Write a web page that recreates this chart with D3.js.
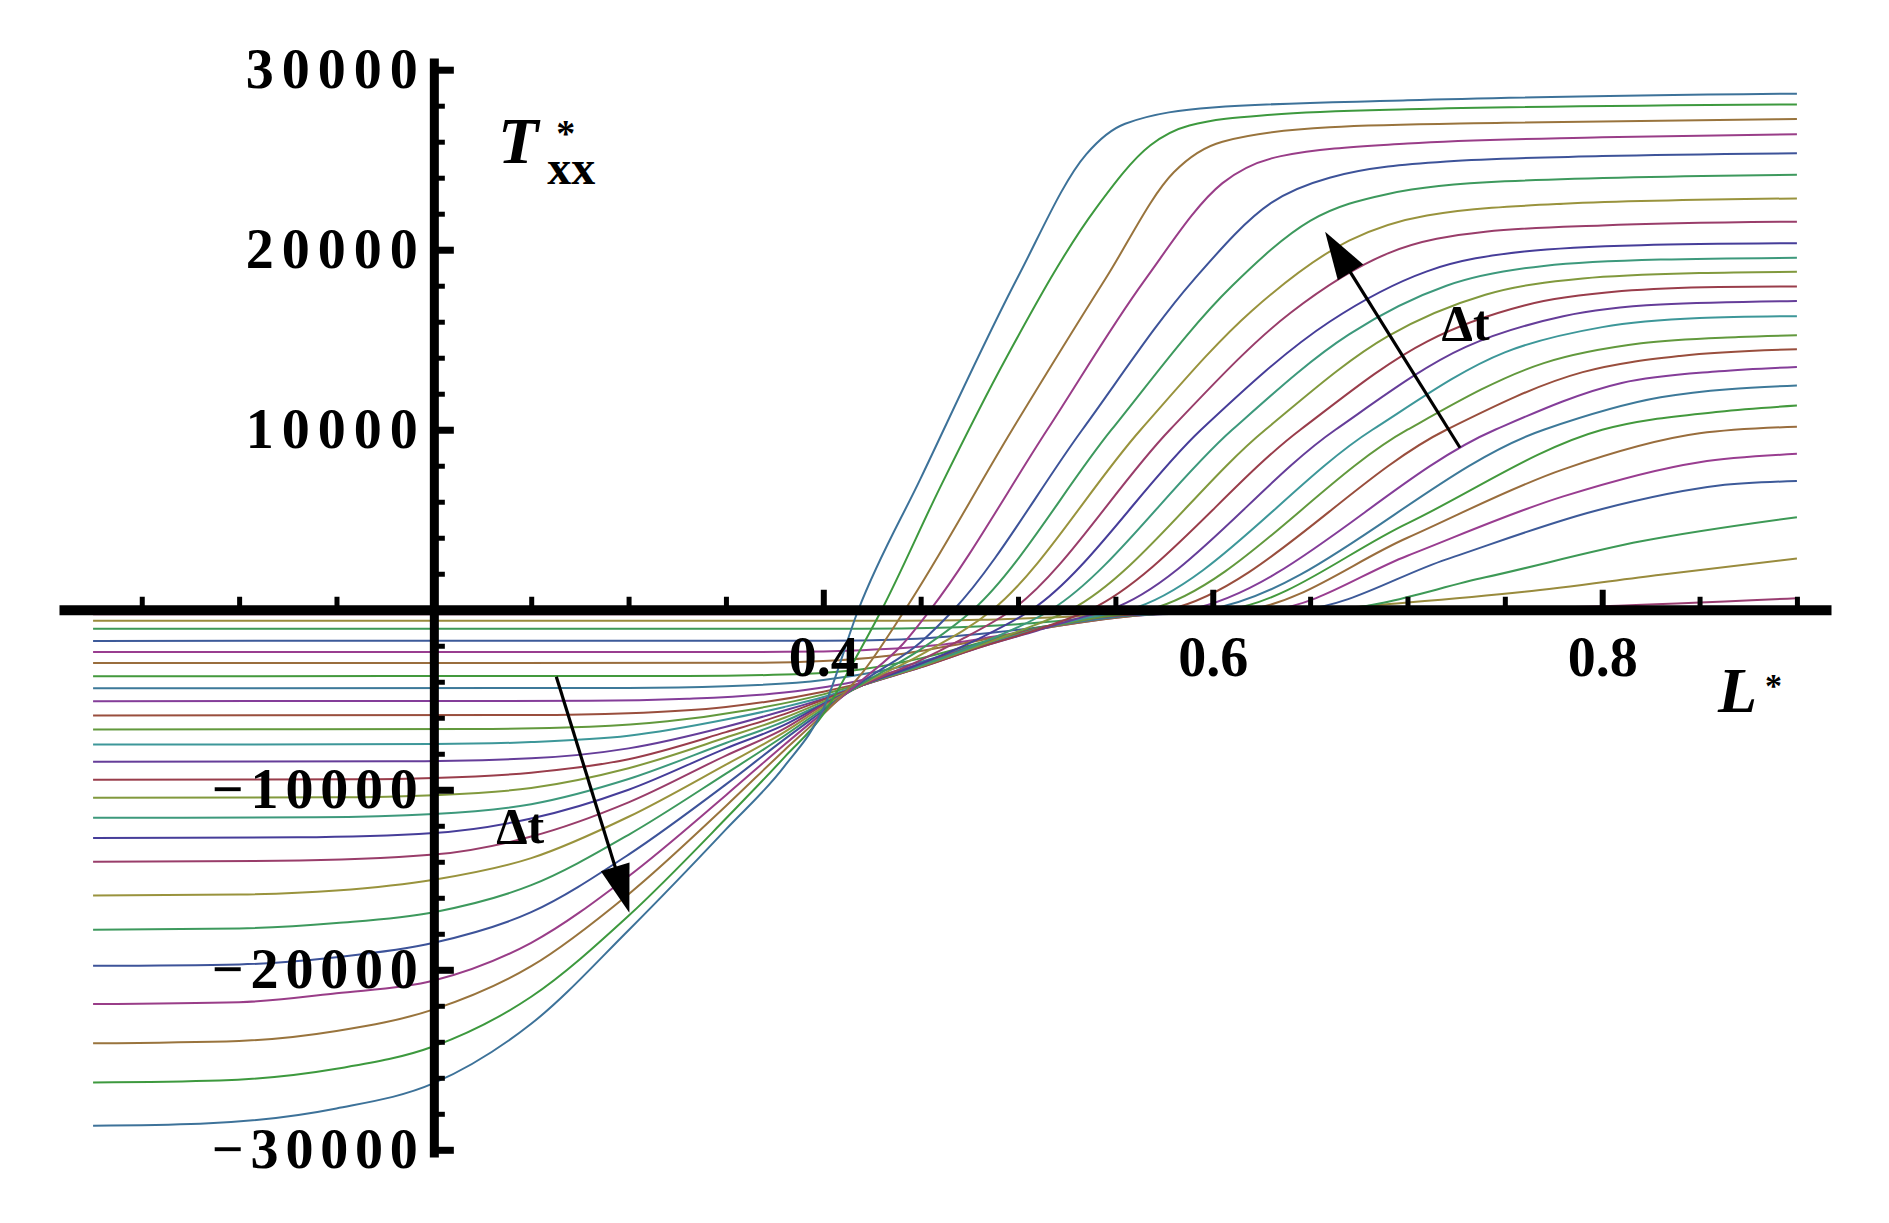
<!DOCTYPE html>
<html><head><meta charset="utf-8">
<script src="https://cdn.jsdelivr.net/npm/d3@7"></script>
<style>html,body{margin:0;padding:0;background:#fff;} svg{display:block;}</style>
</head><body>
<svg id="chart" width="1889" height="1223"></svg>
<script>
// ---- data: T*_xx vs L* for increasing Δt (curve01 = smallest Δt) ----
const curve01 = [[0.025,-60],[0.6,-40],[0.72,0],[0.9,120]];
const curve02 = [[0.025,-250],[0.5,-240],[0.56,-150],[0.62,-50],[0.7,0],[0.8,200],[0.9,640]];
const curve03 = [[0.025,-615],[0.44,-610],[0.48,-560],[0.52,-420],[0.56,-220],[0.6,-60],[0.65,0],[0.7,400],[0.76,1000],[0.83,1950],[0.9,2850]];
const curve04 = [[0.025,-1060],[0.42,-1055],[0.46,-1000],[0.5,-800],[0.54,-450],[0.58,-150],[0.66,0],[0.74,1800],[0.82,3800],[0.9,5140]];
const curve05 = [[0.025,-1730],[0.4,-1720],[0.44,-1650],[0.48,-1350],[0.52,-850],[0.56,-320],[0.645,0],[0.72,2800],[0.8,5600],[0.86,6900],[0.9,7150]];
const curve06 = [[0.025,-2350],[0.38,-2340],[0.42,-2250],[0.46,-1950],[0.49,-1450],[0.52,-900],[0.56,-330],[0.63,0],[0.7,3000],[0.78,6300],[0.85,8200],[0.9,8660]];
const curve07 = [[0.025,-2960],[0.36,-2950],[0.4,-2850],[0.43,-2600],[0.46,-2100],[0.49,-1500],[0.52,-900],[0.56,-330],[0.617,0],[0.7,4000],[0.78,7800],[0.85,9800],[0.9,10170]];
const curve08 = [[0.025,-3690],[0.33,-3680],[0.38,-3600],[0.42,-3300],[0.45,-2700],[0.48,-1850],[0.51,-1000],[0.55,-380],[0.607,0],[0.7,4800],[0.8,10000],[0.86,11000],[0.9,11340]];
const curve09 = [[0.025,-4360],[0.3,-4340],[0.35,-4250],[0.4,-3900],[0.45,-2900],[0.48,-1900],[0.51,-1050],[0.55,-400],[0.597,0],[0.77,10000],[0.83,11800],[0.9,12460]];
const curve10 = [[0.025,-5080],[0.28,-5060],[0.33,-4950],[0.38,-4600],[0.42,-3900],[0.45,-3000],[0.48,-1950],[0.51,-1050],[0.54,-450],[0.587,0],[0.745,10000],[0.81,12600],[0.86,13250],[0.9,13490]];
const curve11 = [[0.025,-5870],[0.25,-5850],[0.3,-5750],[0.35,-5400],[0.4,-4550],[0.42,-4050],[0.45,-3050],[0.48,-1950],[0.51,-1050],[0.54,-450],[0.577,0],[0.72,10000],[0.79,13200],[0.84,14100],[0.9,14470]];
const curve12 = [[0.025,-6650],[0.22,-6630],[0.28,-6500],[0.32,-6200],[0.36,-5600],[0.4,-4700],[0.42,-4100],[0.45,-3100],[0.48,-2000],[0.51,-1100],[0.54,-450],[0.567,0],[0.7,10000],[0.77,13700],[0.82,14800],[0.87,15150],[0.9,15250]];
const curve13 = [[0.025,-7490],[0.2,-7460],[0.25,-7350],[0.3,-7000],[0.35,-6100],[0.38,-5400],[0.4,-4850],[0.42,-4150],[0.45,-3150],[0.48,-2050],[0.51,-1100],[0.535,-450],[0.557,0],[0.682,10000],[0.75,14300],[0.8,15700],[0.85,16200],[0.9,16310]];
const curve14 = [[0.025,-8440],[0.18,-8420],[0.25,-8250],[0.3,-7700],[0.35,-6500],[0.38,-5600],[0.4,-4950],[0.42,-4200],[0.45,-3200],[0.48,-2100],[0.51,-1150],[0.53,-500],[0.547,0],[0.663,10000],[0.73,14600],[0.78,16300],[0.83,16950],[0.9,17150]];
const curve15 = [[0.025,-9440],[0.16,-9420],[0.2,-9350],[0.25,-9050],[0.3,-8300],[0.35,-6800],[0.38,-5800],[0.4,-5000],[0.42,-4200],[0.45,-3200],[0.48,-2100],[0.51,-1100],[0.537,0],[0.645,10000],[0.71,14900],[0.76,16900],[0.81,17700],[0.86,17930],[0.9,17960]];
const curve16 = [[0.025,-10450],[0.15,-10420],[0.2,-10300],[0.25,-9900],[0.3,-8800],[0.35,-7100],[0.38,-6000],[0.4,-5100],[0.42,-4200],[0.45,-3150],[0.48,-2000],[0.5,-1200],[0.527,0],[0.627,10000],[0.69,15200],[0.74,17500],[0.79,18400],[0.85,18700],[0.9,18770]];
const curve17 = [[0.025,-11560],[0.14,-11530],[0.2,-11350],[0.25,-10800],[0.3,-9400],[0.35,-7400],[0.38,-6200],[0.4,-5200],[0.42,-4200],[0.45,-3100],[0.48,-1900],[0.517,0],[0.61,10000],[0.67,15300],[0.72,18000],[0.77,19100],[0.83,19450],[0.9,19550]];
const curve18 = [[0.025,-12680],[0.13,-12640],[0.2,-12400],[0.25,-11600],[0.3,-10000],[0.35,-7700],[0.38,-6400],[0.4,-5250],[0.42,-4200],[0.45,-3000],[0.48,-1600],[0.507,0],[0.594,10000],[0.66,16000],[0.71,18800],[0.76,19900],[0.82,20250],[0.9,20360]];
const curve19 = [[0.025,-14000],[0.12,-13950],[0.2,-13600],[0.25,-12600],[0.3,-10700],[0.35,-8100],[0.38,-6600],[0.4,-5300],[0.42,-4200],[0.45,-2800],[0.47,-1700],[0.497,0],[0.578,10000],[0.64,16500],[0.69,19800],[0.74,21000],[0.8,21350],[0.9,21560]];
const curve20 = [[0.025,-15870],[0.1,-15820],[0.15,-15600],[0.2,-15000],[0.25,-13800],[0.3,-11500],[0.35,-8600],[0.38,-6800],[0.4,-5400],[0.42,-4150],[0.45,-2500],[0.487,0],[0.563,10000],[0.62,16600],[0.67,20500],[0.71,21900],[0.78,22550],[0.9,22850]];
const curve21 = [[0.025,-17770],[0.1,-17700],[0.15,-17400],[0.2,-16800],[0.25,-15300],[0.3,-12500],[0.35,-9100],[0.38,-7000],[0.4,-5500],[0.42,-4100],[0.45,-2200],[0.477,0],[0.548,10000],[0.61,18000],[0.65,21600],[0.69,23100],[0.75,23800],[0.9,24160]];
const curve22 = [[0.025,-19780],[0.1,-19700],[0.15,-19300],[0.2,-18500],[0.25,-16800],[0.3,-13600],[0.35,-9700],[0.38,-7200],[0.4,-5600],[0.42,-4000],[0.45,-1800],[0.467,0],[0.533,10000],[0.59,18300],[0.63,22600],[0.66,24000],[0.72,24900],[0.8,25200],[0.9,25360]];
const curve23 = [[0.025,-21900],[0.1,-21800],[0.15,-21300],[0.2,-20600],[0.25,-18500],[0.3,-14800],[0.35,-10300],[0.38,-7500],[0.4,-5700],[0.42,-3900],[0.44,-2000],[0.455,0],[0.515,10000],[0.565,18300],[0.605,23700],[0.635,25200],[0.7,25900],[0.8,26250],[0.9,26420]];
const curve24 = [[0.025,-24080],[0.1,-23950],[0.15,-23400],[0.2,-22200],[0.25,-19800],[0.3,-15800],[0.35,-10900],[0.38,-7800],[0.4,-5800],[0.42,-3500],[0.442,0],[0.497,10000],[0.545,18400],[0.58,24300],[0.605,26000],[0.66,26800],[0.75,27050],[0.9,27260]];
const curve25 = [[0.025,-26260],[0.09,-26150],[0.15,-25500],[0.2,-24250],[0.25,-21500],[0.3,-17000],[0.35,-11600],[0.38,-8200],[0.4,-5800],[0.415,-3000],[0.43,0],[0.46,6800],[0.494,14000],[0.54,22300],[0.568,25800],[0.588,26900],[0.63,27500],[0.7,27800],[0.9,28070]];
const curve26 = [[0.025,-28660],[0.08,-28550],[0.15,-27700],[0.2,-26300],[0.25,-23000],[0.3,-17800],[0.35,-12200],[0.38,-8700],[0.4,-5500],[0.418,0],[0.45,7300],[0.5,18500],[0.535,25300],[0.555,27000],[0.6,27900],[0.7,28300],[0.9,28670]];
const curves = [curve01,curve02,curve03,curve04,curve05,curve06,curve07,curve08,curve09,curve10,curve11,curve12,curve13,
                curve14,curve15,curve16,curve17,curve18,curve19,curve20,curve21,curve22,curve23,curve24,curve25,curve26];

const xMajorTicks = [0.4, 0.6, 0.8];
const xTickLabels = ["0.4", "0.6", "0.8"];
const yMajorTicks = [30000, 20000, 10000, -10000, -20000, -30000];
const yTickLabels = ["30000", "20000", "10000", "\u221210000", "\u221220000", "\u221230000"];
// annotations (data coordinates): arrow tail -> tip, and "Δt" label anchors
const arrowUpper = [[0.727, 9000], [0.6577, 21000]];
const arrowLower = [[0.2629, -3720], [0.3004, -16830]];
const dtLabelPos = [[0.7175, 15000], [0.232, -12940]];

// ---- drawing ----
const svg = d3.select("#chart");
const W = 1889, H = 1223;
svg.append("rect").attr("width", W).attr("height", H).attr("fill", "#fff");

const x = d3.scaleLinear().domain([0.0075, 0.9175]).range([59, 1831]);
const y = d3.scaleLinear().domain([-30400, 30650]).range([1157, 58]);
const FONT = "'Liberation Serif','Times New Roman',Times,serif";

function hsv(h, s, v) {
  const i = Math.floor(h * 6), f = h * 6 - i, p = v * (1 - s), q = v * (1 - f * s), t = v * (1 - (1 - f) * s);
  let r, g, b;
  switch (i % 6) {
    case 0: r = v; g = t; b = p; break;
    case 1: r = q; g = v; b = p; break;
    case 2: r = p; g = v; b = t; break;
    case 3: r = p; g = q; b = v; break;
    case 4: r = t; g = p; b = v; break;
    default: r = v; g = p; b = q;
  }
  return d3.rgb(r * 255, g * 255, b * 255).formatHex();
}
const color = i => hsv((0.67 + i * 0.236068) % 1, 0.6, 0.6);

// curves
const line = d3.line().x(d => x(d[0])).y(d => y(d[1])).curve(d3.curveMonotoneX);
svg.append("g").selectAll("path").data(curves).join("path")
  .attr("d", line).attr("fill", "none")
  .attr("stroke", (d, i) => color(i)).attr("stroke-width", 2)
  .attr("stroke-linejoin", "round");

const x0 = x(0.2), y0 = y(0);

// x axis
const xMinor = d3.range(1, 19).map(i => +(i * 0.05).toFixed(2)).filter(v => ![0.2, 0.4, 0.6, 0.8].includes(v));
const gxm = svg.append("g").attr("transform", `translate(0,${y0})`)
  .call(d3.axisBottom(x).tickValues(xMinor).tickSize(-13).tickSizeOuter(0).tickFormat(""));
gxm.select(".domain").remove();
gxm.selectAll(".tick line").attr("stroke", "#000").attr("stroke-width", 5);
const gx = svg.append("g").attr("transform", `translate(0,${y0})`)
  .call(d3.axisBottom(x).tickValues(xMajorTicks).tickSize(-20).tickSizeOuter(0).tickPadding(26)
    .tickFormat((d, i) => xTickLabels[i]));
gx.select(".domain").attr("stroke", "#000").attr("stroke-width", 10);
gx.selectAll(".tick line").attr("stroke", "#000").attr("stroke-width", 6);
gx.selectAll(".tick text").attr("font-family", FONT).attr("font-size", 56).attr("font-weight", "bold").attr("fill", "#000");

// y axis
const yMinor = d3.range(-15, 16).map(i => i * 2000).filter(v => v !== 0 && v % 10000 !== 0);
const gym = svg.append("g").attr("transform", `translate(${x0},0)`)
  .call(d3.axisLeft(y).tickValues(yMinor).tickSize(-11).tickSizeOuter(0).tickFormat(""));
gym.select(".domain").remove();
gym.selectAll(".tick line").attr("stroke", "#000").attr("stroke-width", 5);
const gy = svg.append("g").attr("transform", `translate(${x0},0)`)
  .call(d3.axisLeft(y).tickValues(yMajorTicks).tickSize(-20).tickSizeOuter(0).tickPadding(16)
    .tickFormat((d, i) => yTickLabels[i]));
gy.select(".domain").attr("stroke", "#000").attr("stroke-width", 9);
gy.selectAll(".tick line").attr("stroke", "#000").attr("stroke-width", 7);
gy.selectAll(".tick text").attr("font-family", FONT).attr("font-size", 56).attr("font-weight", "bold").attr("fill", "#000")
  .attr("textLength", (d, i) => yTickLabels[i].length === 5 ? 172 : 206).attr("lengthAdjust", "spacing");

// axis labels (single text elements with super/subscript tspans)
const lab = svg.append("g").attr("font-family", FONT).attr("fill", "#000");
const tl = lab.append("text").attr("x", 498).attr("y", 163).attr("font-weight", "bold");
tl.append("tspan").attr("font-size", 66).attr("font-style", "italic").text("T");
tl.append("tspan").attr("font-size", 38).attr("dx", 18).attr("dy", -17).text("*");
tl.append("tspan").attr("font-size", 48).attr("dx", -28).attr("dy", 38).text("xx");
const ll = lab.append("text").attr("x", 1718).attr("y", 712).attr("font-weight", "bold");
ll.append("tspan").attr("font-size", 64).attr("font-style", "italic").text("L");
ll.append("tspan").attr("font-size", 34).attr("dx", 8).attr("dy", -15).text("*");

// Δt labels
lab.selectAll("text.dt").data(dtLabelPos).join("text").attr("class", "dt")
  .attr("x", d => x(d[0])).attr("y", d => y(d[1]))
  .attr("font-size", 50).attr("font-weight", "bold").text("\u0394t");

// arrows
function arrow(p) {
  const [tx, ty] = [x(p[0][0]), y(p[0][1])], [hx, hy] = [x(p[1][0]), y(p[1][1])];
  const dx = hx - tx, dy = hy - ty, len = Math.hypot(dx, dy), ux = dx / len, uy = dy / len;
  const hl = 48, hw = 15, bx = hx - ux * hl, by = hy - uy * hl;
  const g = svg.append("g");
  g.append("line").attr("x1", tx).attr("y1", ty).attr("x2", bx + ux * 4).attr("y2", by + uy * 4)
    .attr("stroke", "#000").attr("stroke-width", 3.2);
  g.append("path").attr("d", `M${hx},${hy}L${bx - uy * hw},${by + ux * hw}L${bx + uy * hw},${by - ux * hw}Z`).attr("fill", "#000");
}
arrow(arrowUpper);
arrow(arrowLower);
</script>
</body></html>
